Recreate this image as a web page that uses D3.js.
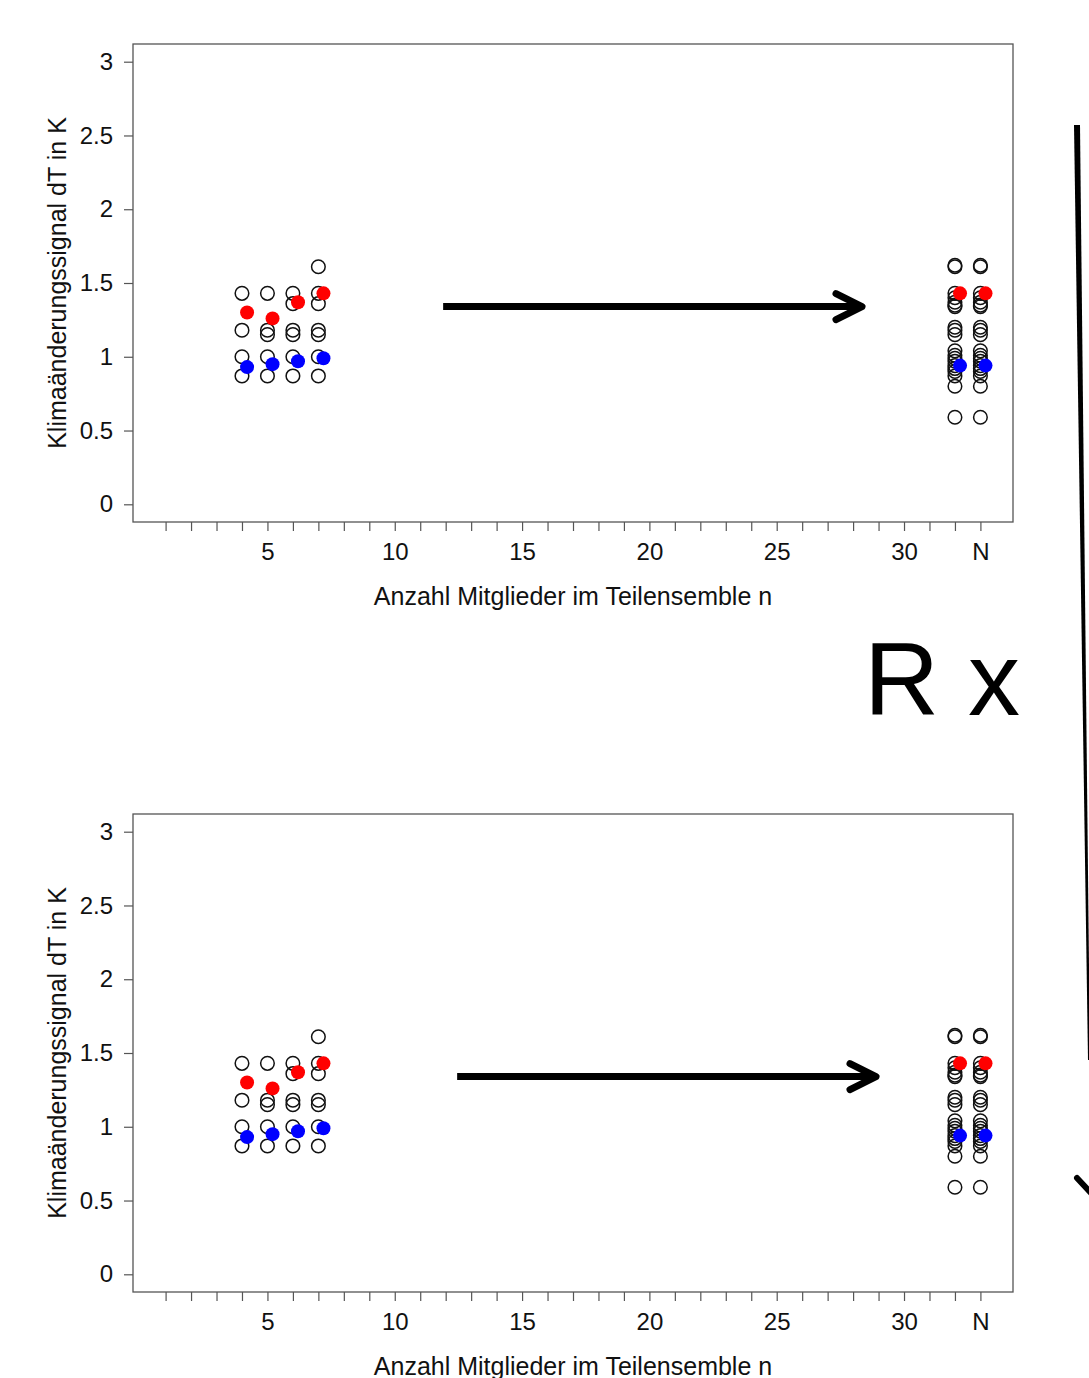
<!DOCTYPE html>
<html>
<head>
<meta charset="utf-8">
<script src="https://cdn.jsdelivr.net/npm/d3@7"></script>
<style>
  body { margin: 0; background: #fff; }
  text { font-family: "Liberation Sans", Arial, sans-serif; }
</style>
</head>
<body>
<div id="mainDiv"></div>
<script>
'use strict';

// sub-ensemble sizes and the members drawn in each column
var subsetSizes   = [4, 5, 6, 7];
var subsetMembers = [
    [1.43, 1.18, 1.00, 0.87],
    [1.43, 1.18, 1.15, 1.00, 0.87],
    [1.43, 1.36, 1.18, 1.15, 1.00, 0.87],
    [1.61, 1.43, 1.36, 1.18, 1.15, 1.00, 0.87]
];
var subsetRed  = [1.30, 1.26, 1.37, 1.43];
var subsetBlue = [0.93, 0.95, 0.97, 0.99];

// full ensemble, drawn twice at x = 32 and x = N (33)
var fullColumns = [32, 33];
var fullMembers = [1.62, 1.61, 1.43, 1.40, 1.37, 1.35, 1.34, 1.20, 1.18, 1.15,
                   1.04, 1.01, 0.99, 0.97, 0.94, 0.92, 0.90, 0.87, 0.80, 0.59];
var fullRed  = 1.43;
var fullBlue = 0.94;

var xTickValues = d3.range(1, 34);
var xTickLabels = {5: '5', 10: '10', 15: '15', 20: '20', 25: '25', 30: '30', 33: 'N'};
var yTickValues = [0, 0.5, 1, 1.5, 2, 2.5, 3];

// arrow annotations per panel: [x0, x1, y] in data units
var panelArrows = [[11.9, 28.35, 1.34], [12.45, 28.9, 1.34]];

var chart = {};
chart.left = 133; chart.right = 1013;
chart.panelTops = [44, 814];
chart.panelHeight = 478;
chart.offset = 0.2;

chart.xScale = d3.scaleLinear().domain([-0.28, 34.28]).range([chart.left, chart.right]);

chart.drawPanel = function(svg, top, arrow) {
    var yScale = d3.scaleLinear().domain([-0.12, 3.12]).range([top + chart.panelHeight, top]);
    var xScale = chart.xScale;
    var g = svg.append('g');

    g.append('rect')
        .attr('x', chart.left).attr('y', top)
        .attr('width', chart.right - chart.left).attr('height', chart.panelHeight)
        .attr('fill', 'none').attr('stroke', '#555').attr('stroke-width', 1.3);

    // x axis
    var xAxis = d3.axisBottom(xScale).tickValues(xTickValues).tickSize(9).tickPadding(12)
        .tickFormat(function(d) { return xTickLabels[d] || ''; });
    var xg = g.append('g').attr('transform', 'translate(0,' + (top + chart.panelHeight) + ')').call(xAxis);
    xg.select('.domain').remove();
    xg.selectAll('line').attr('stroke', '#555').attr('stroke-width', 1.2);
    xg.selectAll('text').attr('font-size', 24).attr('fill', '#111').style('font-family', '"Liberation Sans", Arial, sans-serif');

    // y axis
    var yAxis = d3.axisLeft(yScale).tickValues(yTickValues).tickSize(9).tickPadding(11).tickFormat(d3.format('~g'));
    var yg = g.append('g').attr('transform', 'translate(' + chart.left + ',0)').call(yAxis);
    yg.select('.domain').remove();
    yg.selectAll('line').attr('stroke', '#555').attr('stroke-width', 1.2);
    yg.selectAll('text')
        .attr('font-size', 24).attr('fill', '#111')
        .style('font-family', '"Liberation Sans", Arial, sans-serif');

    g.append('text')
        .attr('x', 573).attr('y', top + chart.panelHeight + 83)
        .attr('text-anchor', 'middle').attr('font-size', 25).attr('fill', '#111')
        .text('Anzahl Mitglieder im Teilensemble n');

    g.append('text')
        .attr('transform', 'translate(66,' + (top + chart.panelHeight / 2) + ') rotate(-90)')
        .attr('text-anchor', 'middle').attr('font-size', 25).attr('fill', '#111')
        .text('Klimaänderungssignal dT in K');

    // open circles
    var openPts = [];
    subsetSizes.forEach(function(n, i) {
        subsetMembers[i].forEach(function(v) { openPts.push({x: n, y: v}); });
    });
    fullColumns.forEach(function(n) {
        fullMembers.forEach(function(v) { openPts.push({x: n, y: v}); });
    });
    g.selectAll('circle.open').data(openPts).enter().append('circle')
        .attr('class', 'open')
        .attr('cx', function(d) { return xScale(d.x); })
        .attr('cy', function(d) { return yScale(d.y); })
        .attr('r', 6.8)
        .attr('fill', 'none').attr('stroke', '#111').attr('stroke-width', 1.5);

    // filled circles
    var filledPts = [];
    subsetSizes.forEach(function(n, i) {
        filledPts.push({x: n + chart.offset, y: subsetRed[i], c: 'red'});
        filledPts.push({x: n + chart.offset, y: subsetBlue[i], c: 'blue'});
    });
    fullColumns.forEach(function(n) {
        filledPts.push({x: n + chart.offset, y: fullRed, c: 'red'});
        filledPts.push({x: n + chart.offset, y: fullBlue, c: 'blue'});
    });
    g.selectAll('circle.fill').data(filledPts).enter().append('circle')
        .attr('class', 'fill')
        .attr('cx', function(d) { return xScale(d.x); })
        .attr('cy', function(d) { return yScale(d.y); })
        .attr('r', 7)
        .attr('fill', function(d) { return d.c === 'red' ? '#f00' : '#00f'; });

    // arrow
    var ax0 = xScale(arrow[0]), ax1 = xScale(arrow[1]), ay = yScale(arrow[2]);
    g.append('line')
        .attr('x1', ax0).attr('y1', ay).attr('x2', ax1 - 3).attr('y2', ay)
        .attr('stroke', '#000').attr('stroke-width', 7);
    g.append('path')
        .attr('d', 'M' + (ax1 - 26) + ',' + (ay - 13) + 'L' + ax1 + ',' + ay + 'L' + (ax1 - 26) + ',' + (ay + 13))
        .attr('fill', 'none').attr('stroke', '#000').attr('stroke-width', 7)
        .attr('stroke-linecap', 'round').attr('stroke-linejoin', 'round');
};

chart.start = function() {
    var svg = d3.select('#mainDiv').append('svg')
        .attr('width', 1089).attr('height', 1378);
    svg.append('rect').attr('width', 1089).attr('height', 1378).attr('fill', '#fff');

    chart.panelTops.forEach(function(top, i) {
        chart.drawPanel(svg, top, panelArrows[i]);
    });

    svg.append('text')
        .attr('x', 942).attr('y', 715)
        .attr('text-anchor', 'middle').attr('font-size', 104).attr('fill', '#000')
        .text('R x');

    // long curved arrow leaving the picture on the right
    svg.append('path')
        .attr('d', 'M1074,125 L1080,125 L1090,1060 L1088,1060 Z')
        .attr('fill', '#000');
    svg.append('line')
        .attr('x1', 1077).attr('y1', 1178).attr('x2', 1092).attr('y2', 1194)
        .attr('stroke', '#000').attr('stroke-width', 6).attr('stroke-linecap', 'round');
};

window.onload = chart.start;
</script>
</body>
</html>
